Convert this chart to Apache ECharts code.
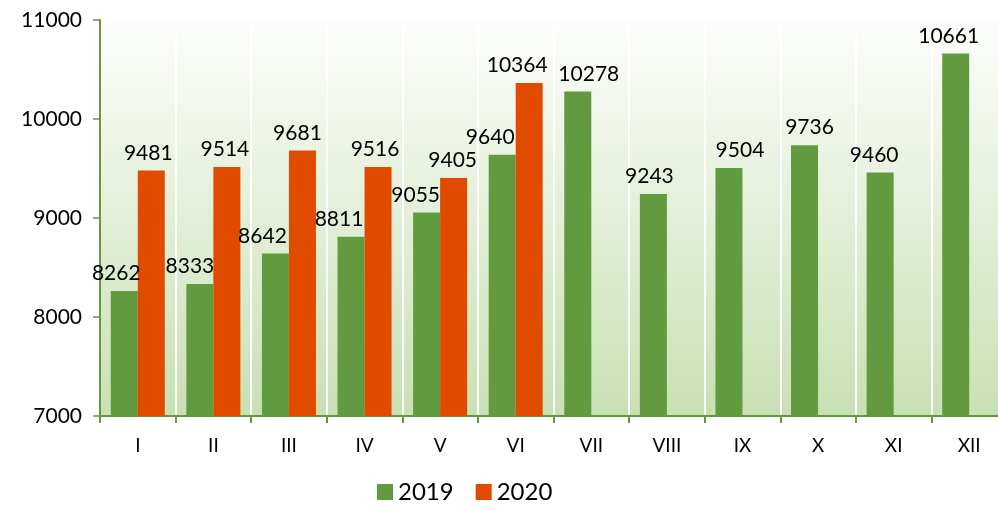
<!DOCTYPE html>
<html>
<head>
<meta charset="utf-8">
<script src="https://cdn.jsdelivr.net/npm/echarts@6/dist/echarts.min.js"></script>
<style>
  html, body { margin: 0; padding: 0; background: #fff; }
  #chart { width: 998px; height: 511px; }
</style>
</head>
<body>
<div id="chart"></div>
<script>
// місяці
const months = ['I', 'II', 'III', 'IV', 'V', 'VI', 'VII', 'VIII', 'IX', 'X', 'XI', 'XII'];
const values2019 = [8262, 8333, 8642, 8811, 9055, 9640, 10278, 9243, 9504, 9736, 9460, 10661];
const values2020 = [9481, 9514, 9681, 9516, 9405, 10364, null, null, null, null, null, null];
const yTicks = { min: 7000, max: 11000, step: 1000 };

// ручне зміщення підписів по горизонталі (як в оригіналі)
const labelShift2019 = [-8, -10, -13, -12, -11, -12, 11, -4, 11, 5, -6, -7];
const labelShift2020 = [-3, -2, -5, -3, -1, -12, 0, 0, 0, 0, 0, 0];

const FONT = 'Lato, "Open Sans", sans-serif';

const chart = echarts.init(document.getElementById('chart'));

const labelStyle = {
    show: true,
    position: 'top',
    distance: 7,
    color: '#000',
    fontSize: 21,
    fontFamily: FONT
};

function withShift(values, shifts) {
    return values.map((v, i) => ({
        value: v,
        label: { offset: [shifts[i], 0] }
    }));
}

chart.setOption({
    animation: false,
    grid: {
        left: 100,
        top: 20,
        width: 907,
        height: 396,
        outerBoundsMode: 'none',
        show: true,
        borderWidth: 0,
        backgroundColor: new echarts.graphic.LinearGradient(0, 0, 0, 1, [
            { offset: 0, color: '#fdfefc' },
            { offset: 1, color: '#c8e0b3' }
        ])
    },
    legend: {
        bottom: 2,
        left: 372,
        itemWidth: 16,
        itemHeight: 16,
        itemGap: 22,
        icon: 'rect',
        textStyle: { fontSize: 24, color: '#000', fontFamily: FONT },
        data: ['2019', '2020']
    },
    xAxis: {
        type: 'category',
        data: months,
        axisLine: { lineStyle: { color: '#629a3f', width: 2 } },
        axisTick: { show: true, length: 7, lineStyle: { color: '#629a3f', width: 2 } },
        axisLabel: { color: '#000', fontSize: 19, margin: 20, fontFamily: FONT },
        splitLine: { show: true, lineStyle: { color: '#ffffff', width: 2 } }
    },
    yAxis: {
        type: 'value',
        min: yTicks.min,
        max: yTicks.max,
        interval: yTicks.step,
        axisLine: { show: true, lineStyle: { color: '#629a3f', width: 2 } },
        axisTick: { show: true, length: 7, lineStyle: { color: '#629a3f', width: 1.5 } },
        axisLabel: {
            color: '#000', fontSize: 21, margin: 18, fontFamily: FONT,
            formatter: v => String(v)
        },
        splitLine: { show: false }
    },
    series: [
        {
            name: '2019',
            type: 'bar',
            data: withShift(values2019, labelShift2019),
            barWidth: 27,
            barGap: '0%',
            itemStyle: { color: '#629a3f' },
            label: labelStyle
        },
        {
            name: '2020',
            type: 'bar',
            data: withShift(values2020, labelShift2020),
            barWidth: 27,
            itemStyle: { color: '#e14b00' },
            label: labelStyle
        }
    ]
});
</script>
</body>
</html>
